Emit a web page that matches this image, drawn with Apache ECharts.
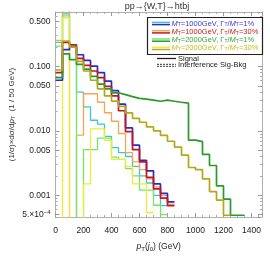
<!DOCTYPE html>
<html><head><meta charset="utf-8">
<script src="https://cdn.jsdelivr.net/npm/echarts@6/dist/echarts.min.js"></script>
<style>html,body{margin:0;padding:0;background:#fff}#c{width:270px;height:257px}</style>
</head><body><div id="c"></div>
<script>
// histogram bin width (GeV); bins start at 0
const binWidth = 50;
// value used for negative interference bins (off the log scale)
const NEG = 1e-8;

// Signal, normalised distributions, one value per 50 GeV bin
const sigM1000W1  = [0.061,0.182,0.199,0.152,0.124,0.101,0.080,0.059,0.042,0.026,0.0111,0.0060,0.0035,0.0024,0.0015,0.00107,0.00079];
const sigM1000W30 = [0.080,0.236,0.217,0.133,0.104,0.085,0.067,0.049,0.035,0.0205,0.0097,0.0051,0.0033,0.0019,0.00126,0.0009,0.00069];
const sigM2000W1  = [0.067,0.157,0.128,0.108,0.091,0.070,0.053,0.045,0.039,0.0365,0.034,0.032,0.031,0.030,0.0288,0.030,0.0288,0.0278,0.0269,0.0072,0.0068,0.0043,0.0029,0.0014,0.00087,0.00049,0.00049];
const sigM2000W30 = [0.088,0.247,0.199,0.120,0.085,0.061,0.045,0.035,0.029,0.024,0.019,0.0156,0.0136,0.0115,0.0100,0.0085,0.0069,0.0056,0.0042,0.0027,0.0025,0.0018,0.00114,0.00084,0.00049];

// Interference Sig-Bkg
const intM1000W1  = [0.236,0.654,0.213,0.040,0.0235,0.0146,0.0127,0.0082,0.0055,0.0046,0.0040,0.0028,0.0020,0.00155,0.0010,0.00069];
const intM1000W30 = [0.253,0.75,NEG,0.0086,0.0377,0.0377,0.0278,0.0191,0.0141,0.0091,0.0046,0.0033,0.0025,0.0018,0.00135,0.0010,0.00073];
const intM2000W1  = [0.206,0.61,0.20,NEG,0.0051,0.0051,0.0077,0.0077,0.0039,0.0036,0.0026,0.0020,0.0012,0.0012,0.0007,0.0005];
const intM2000W30 = [NEG,0.57,NEG,NEG,0.0015,0.0107,0.0107,0.0071,0.0036,0.0036,0.0028,0.0015,0.0015,0.00054];

// axis tick labels
const xTicks = [0,200,400,600,800,1000,1200,1400];
const yTicksMain = {'-1':'0.100','-2':'0.010','-3':'0.001'};
const yTicksHalf = {'0':'0.500','-1':'0.050','-2':'0.005','-3':'{b|5.×10}{sup|−4}'};

const legendLabels = [
  ['1000','1%'],['1000','30%'],['2000','1%'],['2000','30%']
];

const colSig = ['#2a2ac8','#c8141e','#2a9a2a','#b3a818'];
const colInt = ['#42c4c8','#f7a457','#72e862','#ecec3c'];
const colTxt = ['#3a3ae0','#cc2020','#3aa83a','#c8be20'];

function pairs(vals){
  const out = vals.map((v,i)=>[i*binWidth, v]);
  out.push([vals.length*binWidth, vals[vals.length-1]]);
  return out;
}
function expOf(v){ const l=Math.log10(v), e=Math.round(l); return Math.abs(l-e)>1e-6?null:String(e); }
function fmtMain(v){ const e=expOf(v); return e!==null && yTicksMain[e] ? yTicksMain[e] : ''; }
function fmtHalf(v){ const e=expOf(v); return e!==null && yTicksHalf[e] ? yTicksHalf[e] : ''; }

const sigs=[sigM1000W1,sigM1000W30,sigM2000W1,sigM2000W30];
const ints=[intM1000W1,intM1000W30,intM2000W1,intM2000W30];
const series=[];
ints.forEach((d,i)=>series.push({type:'line',step:'end',data:pairs(d),symbol:'none',xAxisIndex:0,yAxisIndex:0,
  lineStyle:{color:colInt[i],width:1.3},z:2,silent:true,animation:false}));
sigs.forEach((d,i)=>series.push({type:'line',step:'end',data:pairs(d),symbol:'none',xAxisIndex:0,yAxisIndex:0,
  lineStyle:{color:colSig[i],width:1.7},z:3,silent:true,animation:false}));

const FONT='Liberation Sans';
const frame={show:true,lineStyle:{color:'#b0b0b0',width:1}};
const tick={show:true,inside:true,length:4,lineStyle:{color:'#999'}};
const minorTickStyle={show:true,inside:true,length:2,lineStyle:{color:'#aaa'}};
const yMin=4.6e-4, yMax=0.7;

// extra log axes used only to place minor ticks at m×10^k (m = 2..9, without 5)
const minorFactors=[5,10/3,2.5,10/6,10/7,1.25,10/9];
const yAxes=[
  {type:'log',logBase:10,min:yMin,max:yMax,position:'left',axisLine:frame,axisTick:tick,splitLine:{show:false},
   axisLabel:{fontSize:8.5,color:'#222',fontFamily:FONT,margin:5,formatter:fmtMain,showMinLabel:false,showMaxLabel:false},
   name:'(1/σ)×dσ/d{i|p}{s|T}  (1 / 50 GeV)',nameLocation:'middle',nameGap:39,nameRotate:90,
   nameTextStyle:{fontSize:8,color:'#333',fontFamily:FONT,rich:{i:{fontStyle:'italic',fontSize:8},s:{fontSize:5.5,padding:[3,0,0,0]}}}},
  {type:'log',logBase:10,min:yMin*2,max:yMax*2,position:'left',axisLine:{show:false},axisTick:tick,splitLine:{show:false},
   axisLabel:{fontSize:8.5,color:'#222',fontFamily:FONT,margin:5,formatter:fmtHalf,showMinLabel:false,showMaxLabel:false,
     rich:{b:{fontSize:8.5,color:'#222'},sup:{fontSize:6,color:'#222',padding:[0,0,5,0]}}}},
  {type:'log',logBase:10,min:yMin,max:yMax,position:'right',axisLine:frame,axisTick:tick,splitLine:{show:false},axisLabel:{show:false}},
  {type:'log',logBase:10,min:yMin*2,max:yMax*2,position:'right',axisLine:{show:false},axisTick:tick,splitLine:{show:false},axisLabel:{show:false}}
];
minorFactors.forEach(f=>{
  ['left','right'].forEach(p=>yAxes.push({type:'log',logBase:10,min:yMin*f,max:yMax*f,position:p,axisLine:{show:false},
    axisTick:minorTickStyle,splitLine:{show:false},axisLabel:{show:false}}));
});

const graphic=[
  {type:'text',x:157,y:2,style:{text:'pp→{W,T}→htbj',fill:'#333',font:'9px "Liberation Sans"',textAlign:'center'}},
  {type:'rect',shape:{x:147.5,y:17.5,width:115,height:37},style:{fill:'#fff',stroke:'#222',lineWidth:1.2},z:10},
];
legendLabels.forEach((l,i)=>{
  const y=23.5+i*8.3;
  graphic.push({type:'line',shape:{x1:152,y1:y-1.1,x2:170,y2:y-1.1},style:{stroke:colInt[i],lineWidth:1.5},z:11});
  graphic.push({type:'line',shape:{x1:152,y1:y+1.1,x2:170,y2:y+1.1},style:{stroke:colSig[i],lineWidth:1.5},z:11});
  graphic.push({type:'text',x:171.5,y:y,z:11,style:{
    text:'{i|M}{s|T}=' + l[0] + 'GeV, Γ{s|T}/{i|M}{s|T}=' + l[1],
    fill:colTxt[i],font:'7.5px "Liberation Sans"',verticalAlign:'middle',
    rich:{i:{fontStyle:'italic',fontSize:7.5,fill:colTxt[i]},s:{fontSize:5,fill:colTxt[i],padding:[3,0,0,0]}}}});
});
graphic.push({type:'line',shape:{x1:157,y1:58.5,x2:176,y2:58.5},style:{stroke:'#222',lineWidth:1.3},z:11});
graphic.push({type:'text',x:178,y:58.5,z:11,style:{text:'Signal',fill:'#222',font:'7.5px "Liberation Sans"',verticalAlign:'middle'}});
graphic.push({type:'line',shape:{x1:157,y1:64.3,x2:176,y2:64.3},style:{stroke:'#222',lineWidth:0.9,lineDash:[2,1]},z:11});
graphic.push({type:'line',shape:{x1:157,y1:66.3,x2:176,y2:66.3},style:{stroke:'#222',lineWidth:0.9,lineDash:[2,1]},z:11});
graphic.push({type:'text',x:178,y:65.3,z:11,style:{text:'Interference Sig-Bkg',fill:'#222',font:'7.5px "Liberation Sans"',verticalAlign:'middle'}});

const chart=echarts.init(document.getElementById('c'),null,{renderer:'canvas'});
chart.setOption({
  animation:false,
  textStyle:{fontFamily:FONT},
  grid:{left:52,right:8,top:12,bottom:29,containLabel:false},
  xAxis:[
    {type:'value',min:0,max:1475,interval:200,position:'bottom',axisLine:frame,axisTick:tick,
     minorTick:{show:true,splitNumber:4,length:2,lineStyle:{color:'#aaa'}},splitLine:{show:false},minorSplitLine:{show:false},
     axisLabel:{fontSize:8.5,color:'#222',fontFamily:FONT,margin:9,formatter:v=>xTicks.includes(v)?String(v):'',showMaxLabel:false},
     name:'{i|p}{s|T}({i|j}{s|0}) (GeV)',nameLocation:'middle',nameGap:25,
     nameTextStyle:{fontSize:8.5,color:'#222',fontFamily:FONT,rich:{i:{fontStyle:'italic',fontSize:8.5},s:{fontSize:6,padding:[4,0,0,0]}}}},
    {type:'value',min:0,max:1475,interval:200,position:'top',axisLine:frame,axisTick:tick,
     minorTick:{show:true,splitNumber:4,length:2,lineStyle:{color:'#aaa'}},splitLine:{show:false},axisLabel:{show:false}}
  ],
  yAxis:yAxes,
  series:series,
  graphic:graphic
});
</script></body></html>
